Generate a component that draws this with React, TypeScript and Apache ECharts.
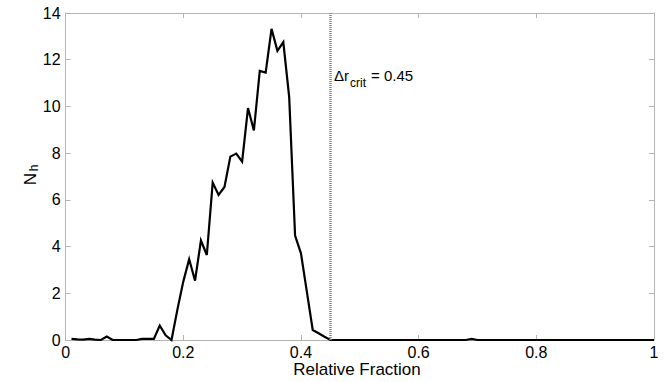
import React, { useEffect, useRef } from "react";
import * as echarts from "echarts";

// Relative fraction bins (bin step 0.01, from 0.01 to 1.00)
const binStart = 0.01;
const binStep = 0.01;
// N_h values, one per bin
const nhValues: number[] = [
  0.05, 0.03, 0.02, 0.05, 0.02, 0, 0.15, 0, 0, 0,
  0, 0, 0.05, 0.05, 0.05, 0.62, 0.2, 0, 1.3, 2.5,
  3.46, 2.54, 4.26, 3.64, 6.74, 6.21, 6.55, 7.85, 7.98, 7.64,
  9.93, 8.97, 11.52, 11.45, 13.32, 12.38, 12.75, 10.4, 4.47, 3.71,
  2.07, 0.43, 0.29, 0.14, 0, 0, 0, 0, 0, 0,
  0, 0, 0, 0, 0, 0, 0, 0, 0, 0,
  0, 0, 0, 0, 0, 0, 0, 0, 0.05, 0,
  0, 0, 0, 0, 0, 0, 0, 0, 0, 0,
  0, 0, 0, 0, 0, 0, 0, 0, 0, 0,
  0, 0, 0, 0, 0, 0, 0, 0, 0, 0,
];
const critValue = 0.45;
const xTicks = [0, 0.2, 0.4, 0.6, 0.8, 1];
const yMax = 14;

const FONT = "'Liberation Sans', Arial, Helvetica, sans-serif";
const AXIS_GRAY = "#b4b4b4";

export default function App() {
  const ref = useRef<HTMLDivElement>(null);
  useEffect(() => {
    if (!ref.current) return;
    const chart = echarts.init(ref.current, undefined, { renderer: "svg" });
    const data = nhValues.map((v, i) => [
      Math.round((binStart + i * binStep) * 100) / 100,
      v,
    ]);
    const baseX = {
      type: "value" as const,
      min: xTicks[0],
      max: xTicks[xTicks.length - 1],
      interval: 0.2,
      splitLine: { show: false },
      axisLine: { show: true, onZero: false, lineStyle: { color: AXIS_GRAY, width: 1 } },
      axisTick: { show: true, inside: true, length: 5, lineStyle: { color: AXIS_GRAY } },
    };
    const baseY = {
      type: "value" as const,
      min: 0,
      max: yMax,
      interval: 2,
      splitLine: { show: false },
      axisLine: { show: true, onZero: false, lineStyle: { color: AXIS_GRAY, width: 1 } },
      axisTick: { show: true, inside: true, length: 5, lineStyle: { color: AXIS_GRAY } },
    };
    chart.setOption({
      animation: false,
      textStyle: { fontFamily: FONT },
      grid: { left: 65.6, right: 11, top: 13, bottom: 42, containLabel: false },
      xAxis: [
        {
          ...baseX,
          position: "bottom",
          axisLabel: {
            show: true,
            color: "#000",
            fontSize: 16,
            fontFamily: FONT,
            margin: 4,
            formatter: (v: number) => String(Math.round(v * 10) / 10),
          },
        },
        { ...baseX, position: "top", axisLabel: { show: false } },
      ],
      yAxis: [
        {
          ...baseY,
          position: "left",
          axisLabel: { show: true, color: "#000", fontSize: 16, fontFamily: FONT, margin: 5 },
        },
        { ...baseY, position: "right", axisLabel: { show: false } },
      ],
      series: [
        {
          type: "line",
          data,
          xAxisIndex: 0,
          yAxisIndex: 0,
          showSymbol: false,
          symbol: "none",
          clip: false,
          lineStyle: { color: "#000", width: 2.2, join: "miter" },
          markLine: {
            silent: true,
            symbol: "none",
            label: { show: false },
            lineStyle: { color: "#808080", width: 2.5, type: [1, 1] },
            data: [
              [
                { coord: [critValue, 0] },
                { coord: [critValue, yMax] },
              ],
            ],
          },
          z: 3,
        },
      ],
      graphic: [
        {
          type: "text",
          x: 357,
          y: 369,
          style: {
            text: "Relative Fraction",
            font: `17px ${FONT}`,
            fill: "#000",
            align: "center",
            verticalAlign: "middle",
          },
        },
        {
          type: "text",
          x: 30,
          y: 179,
          rotation: Math.PI / 2,
          style: {
            text: "N",
            font: `17px ${FONT}`,
            fill: "#000",
            align: "center",
            verticalAlign: "middle",
          },
        },
        {
          type: "text",
          x: 34,
          y: 168,
          rotation: Math.PI / 2,
          style: {
            text: "h",
            font: `12px ${FONT}`,
            fill: "#000",
            align: "center",
            verticalAlign: "middle",
          },
        },
        {
          type: "text",
          x: 334,
          y: 75,
          style: {
            text: "\u0394r",
            font: `15px ${FONT}`,
            fill: "#000",
            align: "left",
            verticalAlign: "middle",
          },
        },
        {
          type: "text",
          x: 350,
          y: 83,
          style: {
            text: "crit",
            font: `12px ${FONT}`,
            fill: "#000",
            align: "left",
            verticalAlign: "middle",
          },
        },
        {
          type: "text",
          x: 371,
          y: 75,
          style: {
            text: "= 0.45",
            font: `15px ${FONT}`,
            fill: "#000",
            align: "left",
            verticalAlign: "middle",
          },
        },
      ],
    });
    return () => chart.dispose();
  }, []);
  return (
    <div
      ref={ref}
      style={{ position: "fixed", left: 0, top: 0, width: 665, height: 382, background: "#fff" }}
    />
  );
}
